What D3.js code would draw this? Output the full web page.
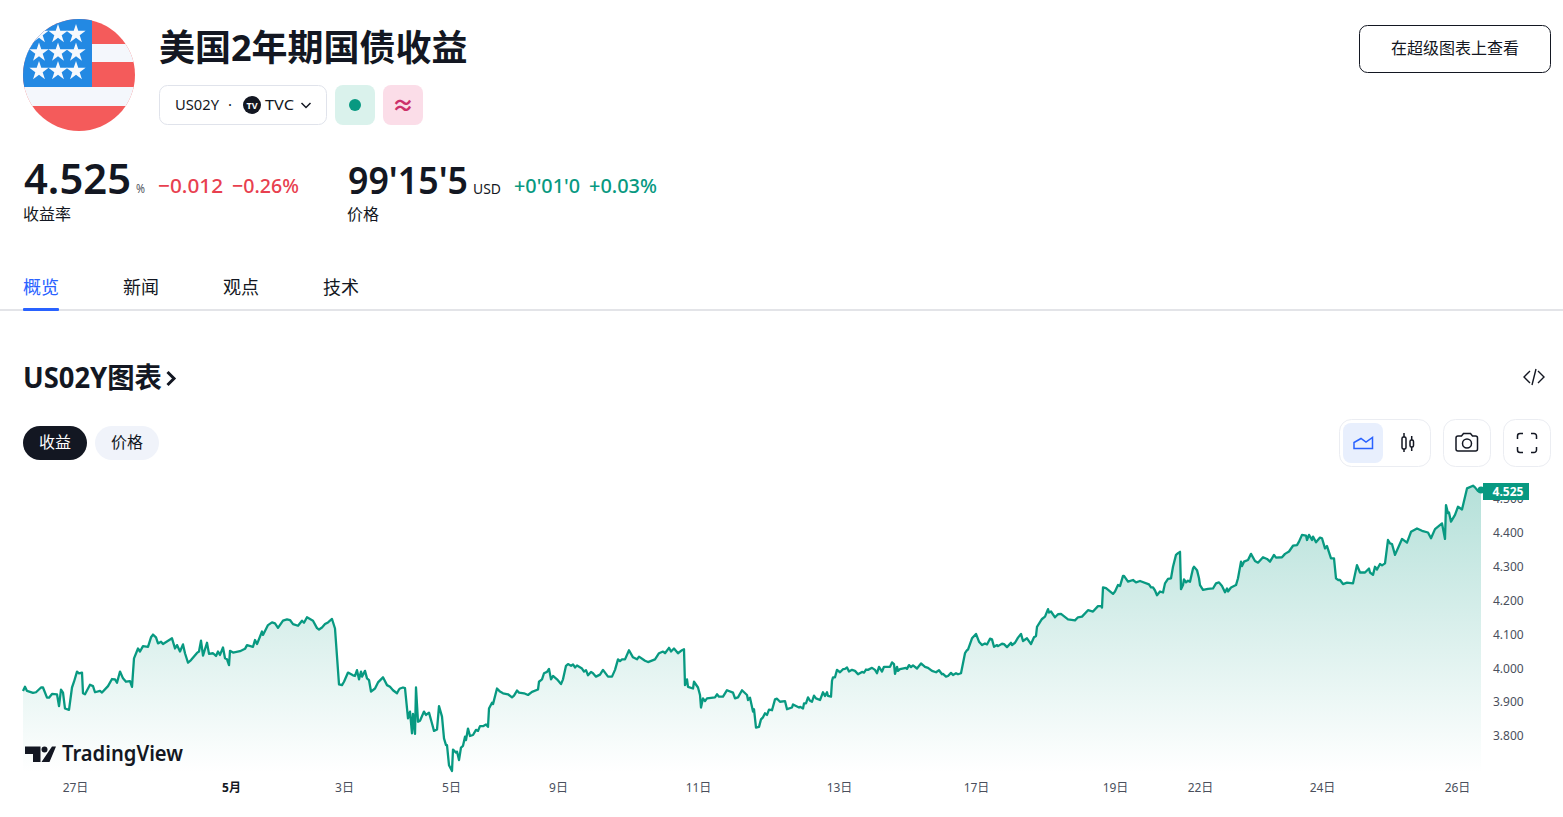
<!DOCTYPE html>
<html>
<head>
<meta charset="utf-8">
<script src="https://cdn.jsdelivr.net/npm/d3@7"></script>
<style>
  html, body { margin: 0; padding: 0; background: #fff; overflow: hidden; }
  svg { display: block; }
  text { font-family: "Noto Sans", "Noto Sans CJK SC", sans-serif; fill: #131722; }
</style>
</head>
<body>
<script>
const bars = [
  0,2,4,10,13,18,20,24,26,29,34,36,38,40,42,46,49,51,54,56,59,60,62,67,70,72,77,79,85,89,92,94,97,100,103,107,109,111,115,117,
  120,125,128,130,133,135,138,140,149,152,154,157,160,162,165,168,174,176,178,180,184,186,190,193,195,197,200,202,204,206,207,210,217,222,224,230,232,234,239,240,
  245,249,252,255,260,264,267,270,275,279,281,284,290,294,296,299,302,305,309,312,316,319,321,325,330,332,334,336,338,339,342,344,346,348,352,355,360,364,367,370,374,376,
  377,380,382,385,387,389,390,392,393,395,397,401,403,406,409,411,414,416,419,421,423,424,426,429,430,433,434,436,438,440,442,443,445,447,450,453,455,457,460,463,465,466,469,470,474,477,480,485,489,491,494,496,501,505,509,515,516,519,521,524,526,528,530,534,538,540,543,545,548,550,552,554,559,561,563,565,568,570,573,577,580,585,589,592,595,597,599,602,606,610,614,616,622,625,632,636,640,642,646,648,651,655,659,661,662,664,665,670,671,675,677,678,680,682,684,692,694,696,700,704,710,712,715,719,724,725,727,730,731,733,736,738,740,742,744,746,749,752,754,757,762,764,769,770,776,
  777,780,781,783,785,787,789,791,793,797,800,802,804,805,808,809,810,812,814,817,820,822,824,826,829,832,835,839,841,843,845,849,852,854,856,859,861,867,869,871,872,874,875,877,883,884,886,888,890,894,898,902,905,909,913,916,919,920,923,925,928,930,933,935,938,942,944,945,949,953,956,959,962,964,967,969,971,974,975,979,981,984,988,989,992,995,998,1000,1004,1008,1011,1013,1014,1019,1022,1025,1026,1028,1032,1035,1038,1045,1052,1055,1059,1065,1070,1075,1078,1079,1080,1083,1090,1092,1095,1097,1100,1101,1105,1110,1113,1117,1126,1128,1130,1132,1134,1137,1140,1142,1145,1148,1150,1153,1155,1157,1158,1160,1161,1163,1165,1167,1170,1171,1174,1176,
  1177,1180,1185,1190,1193,1196,1199,1202,1204,1205,1208,1213,1215,1218,1219,1221,1225,1228,1232,1235,1240,1244,1247,1251,1253,1259,1262,1266,1270,1274,1276,1279,1283,1284,1286,1289,1290,1293,1297,1299,1302,1304,1308,1311,1313,1315,1317,1320,1324,1330,1334,1337,1342,1346,1347,1350,1352,1354,1357,1359,1362,1365,1367,1369,1372,1379,1384,1388,1394,1399,1405,1408,1412,1419,1422,1423,1425,1426,1428,1432,1435,1439,1444,1450,1452,1455,1458
]
const yields = [
  3.933,3.945,3.933,3.927,3.929,3.943,3.943,3.913,3.913,3.924,3.923,3.888,3.937,3.928,3.881,3.877,3.943,3.960,3.990,3.985,3.987,3.926,3.923,3.951,3.947,3.929,3.933,3.928,3.947,3.968,3.967,3.957,3.990,3.970,3.960,3.962,3.945,4.029,4.058,4.049,
  4.065,4.063,4.091,4.099,4.091,4.073,4.078,4.071,4.088,4.058,4.068,4.049,4.070,4.044,4.016,4.024,4.045,4.049,4.081,4.037,4.075,4.042,4.044,4.036,4.049,4.039,4.061,4.029,4.026,4.009,4.051,4.046,4.050,4.057,4.068,4.063,4.083,4.071,4.108,4.098,
  4.127,4.135,4.132,4.119,4.140,4.144,4.142,4.130,4.125,4.140,4.134,4.150,4.140,4.118,4.114,4.120,4.130,4.135,4.145,4.117,3.952,3.950,3.960,3.987,3.979,3.977,3.994,3.967,3.990,3.975,3.992,3.970,3.965,3.931,3.940,3.958,3.973,3.950,3.945,3.935,3.926,3.937,
  3.940,3.943,3.941,3.852,3.872,3.808,3.865,3.806,3.943,3.842,3.845,3.872,3.862,3.869,3.837,3.815,3.819,3.888,3.857,3.793,3.773,3.773,3.714,3.697,3.760,3.751,3.754,3.729,3.766,3.771,3.798,3.788,3.822,3.800,3.803,3.818,3.815,3.829,3.829,3.834,3.827,3.881,3.898,3.894,3.940,3.931,3.926,3.923,3.914,3.919,3.934,3.928,3.926,3.921,3.930,3.937,3.960,3.967,3.985,3.989,3.998,3.967,3.977,3.967,3.953,3.967,4.007,4.012,4.007,4.011,4.002,4.008,3.999,3.990,3.994,3.979,3.989,3.985,3.975,3.981,3.995,3.975,3.975,3.995,4.026,4.021,4.026,4.026,4.053,4.032,4.026,4.034,4.022,4.018,4.026,4.044,4.049,4.044,4.060,4.049,4.058,4.044,4.053,4.056,3.950,3.967,3.945,3.940,3.960,3.943,3.921,3.884,3.911,3.903,3.911,3.914,3.923,3.916,3.916,3.935,3.928,3.911,3.914,3.935,3.921,3.906,3.913,3.872,3.879,3.825,3.827,3.849,3.855,3.867,3.862,3.878,3.876,3.908,3.910,3.901,3.903,3.879,3.884,3.893,3.884,
  3.886,3.881,3.896,3.896,3.914,3.904,3.901,3.919,3.911,3.906,3.929,3.918,3.929,3.918,3.916,3.963,3.973,3.973,3.995,3.988,3.997,3.998,4.002,3.990,3.995,3.992,3.982,3.989,3.987,3.996,3.995,4.001,3.995,3.985,4.004,3.990,4.004,4.004,4.017,4.012,3.983,4.004,3.992,3.997,4.001,3.998,4.009,4.003,4.008,3.999,4.014,4.004,4.001,3.992,3.988,3.994,3.982,3.983,3.975,3.977,3.986,3.980,3.985,3.982,3.985,4.044,4.053,4.055,4.088,4.101,4.078,4.068,4.073,4.070,4.087,4.085,4.063,4.068,4.065,4.072,4.071,4.062,4.075,4.068,4.075,4.090,4.101,4.080,4.088,4.071,4.091,4.095,4.122,4.145,4.152,4.174,4.164,4.167,4.150,4.159,4.160,4.144,4.141,4.150,4.152,4.171,4.167,4.183,4.183,4.179,4.238,4.236,4.219,4.226,4.245,4.242,4.272,4.272,4.255,4.260,4.253,4.257,4.247,4.238,4.238,4.229,4.215,4.226,4.223,4.250,4.263,4.265,4.299,4.334,4.339,4.343,4.233,4.245,4.262,4.253,4.258,4.255,4.294,4.299,4.289,4.265,
  4.245,4.231,4.234,4.235,4.250,4.253,4.242,4.224,4.235,4.226,4.238,4.245,4.265,4.314,4.301,4.314,4.319,4.337,4.316,4.311,4.327,4.322,4.314,4.334,4.326,4.327,4.337,4.344,4.361,4.363,4.373,4.393,4.391,4.378,4.393,4.378,4.388,4.371,4.385,4.383,4.353,4.360,4.324,4.324,4.265,4.260,4.260,4.248,4.252,4.250,4.304,4.282,4.282,4.294,4.282,4.275,4.299,4.291,4.307,4.303,4.309,4.378,4.368,4.366,4.334,4.381,4.370,4.402,4.412,4.405,4.400,4.383,4.410,4.427,4.381,4.481,4.457,4.459,4.432,4.452,4.476,4.468,4.530,4.538,4.533,4.522,4.525
]
const xTickBars = [52, 208, 321, 428, 535, 675, 816, 953, 1092, 1177, 1299, 1434]
const xTickLabels = ['27日', '5月', '3日', '5日', '9日', '11日', '13日', '17日', '19日', '22日', '24日', '26日']
const yTicks = [3.8, 3.9, 4.0, 4.1, 4.2, 4.3, 4.4, 4.5]

const green = '#089981'
const ink = '#131722'
const red = '#e8404f'

const svg = d3.select('body').append('svg').attr('width', 1563).attr('height', 817)

function label(txt, x, y, size, opts = {}) {
  const t = svg
    .append('text')
    .attr('x', x)
    .attr('y', y)
    .attr('font-size', size)
    .attr('font-weight', opts.weight || 400)
    .attr('text-anchor', opts.anchor || 'start')
    .style('fill', opts.fill || ink)
    .text(txt)
  if (opts.len) t.attr('textLength', opts.len).attr('lengthAdjust', 'spacingAndGlyphs')
  return t
}

function box(x, y, w, h, r, fill, stroke) {
  return svg
    .append('rect')
    .attr('x', x)
    .attr('y', y)
    .attr('width', w)
    .attr('height', h)
    .attr('rx', r)
    .attr('fill', fill)
    .attr('stroke', stroke || 'none')
}

// flag
const defs = svg.append('defs')
defs.append('clipPath').attr('id', 'flagClip').append('circle').attr('cx', 79).attr('cy', 75).attr('r', 56)
const flag = svg.append('g').attr('clip-path', 'url(#flagClip)')
flag.append('rect').attr('x', 23).attr('y', 19).attr('width', 112).attr('height', 112).attr('fill', '#f45b5b')
;[[44, 18], [87, 19]].forEach(s => {
  flag.append('rect').attr('x', 23).attr('y', s[0]).attr('width', 112).attr('height', s[1]).attr('fill', '#f4f7fc')
})
flag.append('rect').attr('x', 23).attr('y', 19).attr('width', 69).attr('height', 68).attr('fill', '#2389e3')
const star = d3.symbol().type(d3.symbolStar).size(115)
;[34, 52.5, 71].forEach(sy => {
  ;[39, 58, 76].forEach(sx => {
    flag.append('path').attr('d', star()).attr('fill', '#f7f9fd').attr('transform', `translate(${sx},${sy})`)
  })
})

// header
label('美国2年期国债收益', 159, 61, 36, { weight: 700 })
box(159.5, 85.5, 167, 39, 8, '#fff', '#e0e3eb')
label('US02Y', 175, 110, 14.5, { len: 44 })
label('·', 228, 110, 15)
svg.append('circle').attr('cx', 252).attr('cy', 105).attr('r', 9).attr('fill', ink)
svg.append('text').attr('x', 252).attr('y', 108.5).attr('font-size', 9).attr('font-weight', 700).attr('text-anchor', 'middle').style('fill', '#fff').text('TV')
label('TVC', 265, 110, 14.5, { len: 29 })
svg.append('path').attr('d', 'M301.5 103 l4.5 4.5 l4.5 -4.5').attr('fill', 'none').attr('stroke', ink).attr('stroke-width', 1.5)
box(335, 85, 40, 40, 8, '#daf2ec')
svg.append('circle').attr('cx', 355).attr('cy', 105).attr('r', 6).attr('fill', green)
box(383, 85, 40, 40, 8, '#fbdde8')
label('≈', 403, 113, 22, { weight: 700, anchor: 'middle', fill: '#cc2f6a' })

box(1359.5, 25.5, 191, 47, 8, '#fff', ink)
label('在超级图表上查看', 1455, 54, 16, { anchor: 'middle' })

// quotes
label('4.525', 24, 194, 41, { weight: 600, len: 107 })
label('%', 136, 193, 13, { fill: '#50535e', len: 9 })
label('−0.012', 158, 193, 20, { fill: red, weight: 500, len: 65 })
label('−0.26%', 232, 193, 20, { fill: red, weight: 500, len: 67 })
label('收益率', 23, 220, 16)
label("99'15'5", 348, 194, 37, { weight: 600, len: 120 })
label('USD', 473, 194, 14, { len: 28 })
label("+0'01'0", 514, 193, 20, { fill: green, weight: 500, len: 66 })
label('+0.03%', 589, 193, 20, { fill: green, weight: 500, len: 68 })
label('价格', 347, 220, 16)

// tabs
label('概览', 23, 294, 18, { fill: '#2962ff' })
label('新闻', 123, 294, 18)
label('观点', 223, 294, 18)
label('技术', 323, 294, 18)
box(0, 309, 1563, 2, 0, '#e3e4e8')
box(23, 308, 36, 3, 1, '#2962ff')

// chart heading
label('US02Y图表', 23, 388, 28, { weight: 700, len: 139 })
svg.append('path').attr('d', 'M167.500 372 l6.500 6.500 l-6.500 6.500').attr('fill', 'none').attr('stroke', ink).attr('stroke-width', 3)
svg.append('path').attr('d', 'M1530 371 l-6 6 l6 6 M1538 371 l6 6 l-6 6 M1536 369 l-4 16').attr('fill', 'none').attr('stroke', ink).attr('stroke-width', 1.4)

box(23, 426, 64, 34, 17, ink)
label('收益', 55, 448, 16, { anchor: 'middle', fill: '#fff' })
box(95, 426, 64, 34, 17, '#f0f3fa')
label('价格', 127, 448, 16, { anchor: 'middle' })

// toolbar
box(1339.5, 419.5, 91, 47, 12, '#fff', '#ebedf2')
box(1343, 423, 40, 40, 8, '#e8effd')
svg.append('path').attr('d', 'M1354 448.5 v-6 l7 -4 l5 3.500 l6.500 -4.500 v11 z').attr('fill', 'none').attr('stroke', '#2962ff').attr('stroke-width', 1.5)
const candles = svg.append('g').attr('fill', 'none').attr('stroke', ink).attr('stroke-width', 1.5)
candles.append('rect').attr('x', 1402).attr('y', 437).attr('width', 4).attr('height', 12).attr('rx', 1.5)
candles.append('rect').attr('x', 1410).attr('y', 440).attr('width', 3.500).attr('height', 7).attr('rx', 1.5)
candles.append('path').attr('d', 'M1404 433 v4 M1404 449 v3 M1411.700 436 v4 M1411.700 447 v4')
box(1443.5, 419.5, 47, 47, 12, '#fff', '#ebedf2')
svg.append('path').attr('d', 'M1458 436 h3.500 l2 -2.500 h7 l2 2.500 h3 a2 2 0 0 1 2 2 v11 a2 2 0 0 1 -2 2 h-17.500 a2 2 0 0 1 -2 -2 v-11 a2 2 0 0 1 2 -2 z').attr('fill', 'none').attr('stroke', ink).attr('stroke-width', 1.5)
svg.append('circle').attr('cx', 1467).attr('cy', 443.500).attr('r', 4.500).attr('fill', 'none').attr('stroke', ink).attr('stroke-width', 1.5)
box(1503.5, 419.5, 47, 47, 12, '#fff', '#ebedf2')
svg.append('path').attr('d', 'M1517.500 439 v-3 a2.500 2.500 0 0 1 2.500 -2.500 h3 M1531 433.500 h3 a2.500 2.500 0 0 1 2.500 2.500 v3 M1536.500 447 v3 a2.500 2.500 0 0 1 -2.500 2.500 h-3 M1523 452.500 h-3 a2.500 2.500 0 0 1 -2.500 -2.500 v-3').attr('fill', 'none').attr('stroke', ink).attr('stroke-width', 1.5)

// chart
const plotBottom = 773
const x = d3.scaleLinear().domain([0, 1458]).range([23, 1481])
const y = d3.scaleLinear().domain([3.8, 4.4]).range([736, 532.5])
const points = bars.map((b, i) => [b, yields[i]])

const grad = defs
  .append('linearGradient')
  .attr('id', 'areaFill')
  .attr('gradientUnits', 'userSpaceOnUse')
  .attr('x1', 0)
  .attr('x2', 0)
  .attr('y1', y(d3.max(yields)))
  .attr('y2', plotBottom)
grad.append('stop').attr('offset', 0).attr('stop-color', green).attr('stop-opacity', 0.3)
grad.append('stop').attr('offset', 1).attr('stop-color', green).attr('stop-opacity', 0)

const area = d3.area().x(d => x(d[0])).y0(plotBottom).y1(d => y(d[1]))
const line = d3.line().x(d => x(d[0])).y(d => y(d[1]))

svg.append('path').datum(points).attr('d', area).attr('fill', 'url(#areaFill)')
svg.append('path').datum(points).attr('d', line).attr('fill', 'none').attr('stroke', green).attr('stroke-width', 2.3).attr('stroke-linejoin', 'round')

const yAxis = d3.axisRight(y).tickValues(yTicks).tickFormat(d3.format('.3f')).tickSize(0).tickPadding(0)
svg
  .append('g')
  .attr('transform', 'translate(1493,0)')
  .call(yAxis)
  .call(g => g.select('.domain').remove())
  .call(g => g.selectAll('text').attr('font-size', 12).style('fill', '#4a4f5c').style('font-family', '"Noto Sans", sans-serif'))

const xAxis = d3.axisBottom(x).tickValues(xTickBars).tickFormat((d, i) => xTickLabels[i]).tickSize(0).tickPadding(0)
svg
  .append('g')
  .attr('transform', 'translate(0,783.500)')
  .call(xAxis)
  .call(g => g.select('.domain').remove())
  .call(g =>
    g
      .selectAll('text')
      .attr('font-size', 12)
      .style('fill', (d, i) => (xTickLabels[i] === '5月' ? ink : '#4a4f5c'))
      .style('font-weight', (d, i) => (xTickLabels[i] === '5月' ? 700 : 400))
      .style('font-family', '"Noto Sans", "Noto Sans CJK SC", sans-serif')
  )

// last price marker
const last = points[points.length - 1]
svg.append('circle').attr('cx', x(last[0])).attr('cy', y(last[1])).attr('r', 3.5).attr('fill', green)
box(1483, 483, 46, 17, 0, green)
label(d3.format('.3f')(last[1]), 1508, 496, 12, { anchor: 'middle', fill: '#fff', weight: 700 })

// watermark
svg.append('path').attr('d', 'M25 746.500 h15.500 v15.500 h-7.500 v-8 h-8 z M52 746.500 h4 l-6.500 15.500 h-8 z').attr('fill', ink)
svg.append('circle').attr('cx', 44.500).attr('cy', 749.500).attr('r', 3).attr('fill', ink)
label('TradingView', 62, 761, 21, { weight: 600, len: 121 })
</script>
</body>
</html>
